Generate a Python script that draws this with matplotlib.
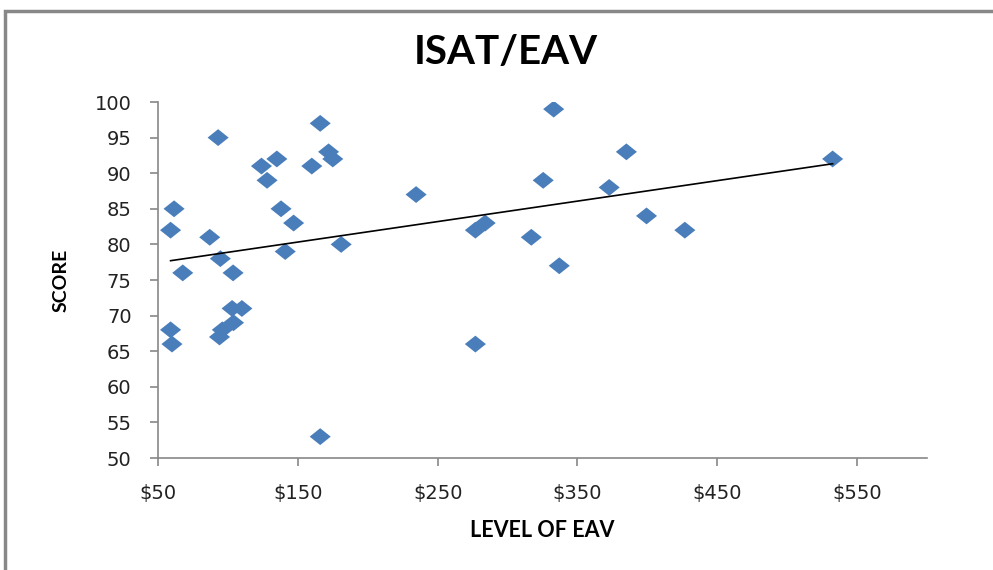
import numpy as np
import matplotlib
matplotlib.use("Agg")
import matplotlib.pyplot as plt
from matplotlib.patches import Rectangle

# Data
eav = [59, 61.5, 67.7, 59, 60, 93, 87, 94.6, 94, 96, 103.7, 103, 110, 104,
       124, 128, 135, 138, 141, 147, 166, 160, 172, 175, 181, 166,
       234.6, 277, 284, 277, 325.5, 333, 317, 337, 372.7, 385, 399.4, 426.8, 532.5]
score = [82, 85, 76, 68, 66, 95, 81, 78, 67, 68, 76, 71, 71, 69,
         91, 89, 92, 85, 79, 83, 97, 91, 93, 92, 80, 53,
         87, 82, 83, 66, 89, 99, 81, 77, 88, 93, 84, 82, 92]
x_ticks = [50, 150, 250, 350, 450, 550]
x_tick_labels = ["$50", "$150", "$250", "$350", "$450", "$550"]
y_ticks = [50, 55, 60, 65, 70, 75, 80, 85, 90, 95, 100]

font = "Lato"
fig = plt.figure(figsize=(9.93, 5.70), dpi=100)
ax = fig.add_axes([158/993, 1-458/570, (927-158)/993, (458-102)/570])

diamond = [(-1, 0), (0, 0.8), (1, 0), (0, -0.8), (-1, 0)]
ax.scatter(eav, score, marker=diamond, s=230, color="#4a7ebb", edgecolors="none", zorder=3)

coef = np.polyfit(eav, score, 1)
xs = np.array([min(eav), max(eav)])
ax.plot(xs, np.polyval(coef, xs), color="black", lw=1.2, zorder=4)

ax.set_xlim(50, 600)
ax.set_ylim(50, 100)
ax.set_xticks(x_ticks)
ax.set_xticklabels(x_tick_labels)
ax.set_yticks(y_ticks)
for s in ["top", "right"]:
    ax.spines[s].set_visible(False)
for s in ["left", "bottom"]:
    ax.spines[s].set_color("#888888")
    ax.spines[s].set_linewidth(1.2)
ax.tick_params(axis="both", direction="out", length=6, width=1.2, color="#888888",
               labelcolor="#222222")
ax.tick_params(axis="x", pad=13)
ax.tick_params(axis="y", pad=13)
for lab in ax.get_xticklabels() + ax.get_yticklabels():
    lab.set_family("DejaVu Sans")
    lab.set_fontsize(14)

ax.set_xlabel("LEVEL OF EAV", fontsize=15.5, fontweight="bold", family=font, labelpad=12)
ax.set_ylabel("SCORE", fontsize=14, fontweight="bold", family=font, labelpad=18)
fig.text(506/993, 1-52/570, "ISAT/EAV", ha="center", va="center",
         fontsize=29, fontweight="bold", family=font)

# outer chart frame
fig.patches.append(Rectangle((5/993, -0.1), 1.1, 1-11/570+0.1, transform=fig.transFigure,
                             fill=False, edgecolor="#888888", lw=2.5))

fig.savefig("out.png", dpi=100)
